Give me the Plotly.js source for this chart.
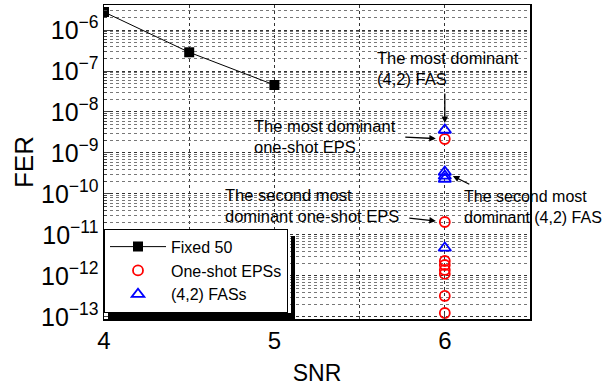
<!DOCTYPE html>
<html>
<head>
<meta charset="utf-8">
<script src="https://cdn.plot.ly/plotly-3.0.1.min.js"></script>
<style>html,body{margin:0;padding:0;background:#fff;}#chart{width:610px;height:386px;}</style>
</head>
<body>
<div id="chart"></div>
<script>
// ---- data ----
const snrFixed = [4, 4.5, 5];
const ferFixed = [2.75e-6, 2.86e-7, 4.56e-8];

const snrEPS = [6, 6, 6, 6, 6, 6, 6, 6];
const ferEPS = [2.19e-9, 2.07e-11, 2.32e-12, 1.85e-12, 1.40e-12, 1.12e-12, 3.25e-13, 1.25e-13];

const snrFAS = [6, 6, 6, 6, 6];
const ferFAS = [3.64e-9, 3.44e-10, 2.75e-10, 2.32e-10, 4.82e-12];

const seriesNames = ['Fixed 50', 'One-shot EPSs', '(4,2) FASs'];
const xTickVals = [4, 5, 6];

// annotation texts
const noteMostFAS = 'The most dominant<br>(4,2) FAS';
const noteMostEPS = 'The most dominant<br>one-shot EPS';
const noteSecondEPS = 'The second most<br>dominant one-shot EPS';
const noteSecondFAS = 'The second most<br>dominant (4,2) FAS';

const FONT = 'Arial, "Liberation Sans", sans-serif';

const traces = [
  {x: snrFixed, y: ferFixed, name: seriesNames[0], mode: 'lines+markers',
   line: {color: '#000', width: 1},
   marker: {symbol: 'square', size: 10, color: '#000'}},
  {x: snrEPS, y: ferEPS, name: seriesNames[1], mode: 'markers',
   marker: {symbol: 'circle-open', size: 10, color: '#ff0000', line: {width: 1.8}}},
  {x: snrFAS, y: ferFAS, name: seriesNames[2], mode: 'markers',
   marker: {symbol: 'triangle-up-open', size: 11, color: '#0000ff', line: {width: 1.8}}}
];

function arrowTo(x, y, ax, ay, standoff) {
  return {x: x, y: Math.log10(y), xref: 'x', yref: 'y', text: '', showarrow: true,
          ax: ax, ay: ay, axref: 'pixel', ayref: 'pixel', arrowhead: 2, arrowsize: 1,
          arrowwidth: 1.3, arrowcolor: '#000', standoff: standoff};
}
function label(text, x, y, size) {
  return {text: text, x: x, y: y, xref: 'x', yref: 'y', showarrow: false,
          xanchor: 'left', yanchor: 'middle', align: 'left',
          font: {family: FONT, size: size, color: '#000'}};
}

const annotations = [
  arrowTo(snrFAS[0], ferFAS[0], 0, -38, 7),
  arrowTo(snrEPS[0], ferEPS[0], -41, -2, 9),
  arrowTo(snrEPS[1], ferEPS[1], -37, -4, 9),
  arrowTo(snrFAS[1], ferFAS[1], 26, 13, 9),
  label(noteMostFAS, 5.59, -6.93, 16.5),
  label(noteMostEPS, 4.87, -8.6, 16.5),
  label(noteSecondEPS, 4.7, -10.29, 16.5),
  label(noteSecondFAS, 6.1, -10.31, 16)
];

// legend drop shadow: two black strips (right and bottom), pixel box -> paper
const plotSize = {l: 104, t: 5, w: 426, h: 314};
function rect(x0, x1, y0, y1) {
  return {type: 'rect', xref: 'paper', yref: 'paper', layer: 'above',
          x0: x0, x1: x1, y0: y0, y1: y1, fillcolor: '#000', line: {width: 0}};
}
function shadowStrips(L, R, T, B, off) {
  const px = v => (v - plotSize.l) / plotSize.w, py = v => 1 - (v - plotSize.t) / plotSize.h;
  return [rect(px(R), px(R + off), py(B + off), py(T + off)),
          rect(px(L + off), px(R + off), py(B + off), py(B - 3))];
}

const layout = {
  width: 610, height: 386,
  margin: {l: 104, r: 80, t: 5, b: 67},
  paper_bgcolor: '#fff', plot_bgcolor: '#fff',
  font: {family: FONT, color: '#000'},
  showlegend: true,
  legend: {x: 0, y: 0.02, xanchor: 'left', yanchor: 'bottom',
           bgcolor: '#fff', bordercolor: '#000', borderwidth: 1,
           font: {family: FONT, size: 16, color: '#000'},
           itemwidth: 56, tracegroupgap: 0},
  xaxis: {
    range: [4, 6.5], tickvals: xTickVals, ticks: 'inside', ticklen: 6, tickwidth: 1,
    tickfont: {family: FONT, size: 24, color: '#000'},
    showline: true, linecolor: '#000', linewidth: 1.5, mirror: true,
    showgrid: true, gridcolor: '#333', griddash: 'dot', gridwidth: 1,
    minor: {dtick: 0.5, showgrid: true, gridcolor: '#333', griddash: 'dot', ticks: 'inside', ticklen: 3},
    zeroline: false,
    title: {text: 'SNR', font: {family: FONT, size: 23, color: '#000'}, standoff: 18}
  },
  yaxis: {
    type: 'log', range: [-13.05, -5.39], dtick: 1, exponentformat: 'power',
    ticks: 'inside', ticklen: 6, tickwidth: 1,
    tickfont: {family: FONT, size: 20, color: '#000'},
    showline: true, linecolor: '#000', linewidth: 1.5, mirror: true,
    showgrid: true, gridcolor: '#333', griddash: 'dot', gridwidth: 1,
    minor: {dtick: 'D1', showgrid: true, gridcolor: '#777', griddash: 'dot', ticks: 'inside', ticklen: 3},
    zeroline: false,
    title: {text: 'FER', font: {family: FONT, size: 26, color: '#000'}, standoff: 0}
  },
  shapes: shadowStrips(104, 291, 232, 316, 4),
  annotations: annotations
};

Plotly.newPlot('chart', traces, layout, {displayModeBar: false, staticPlot: true});
</script>
</body>
</html>
